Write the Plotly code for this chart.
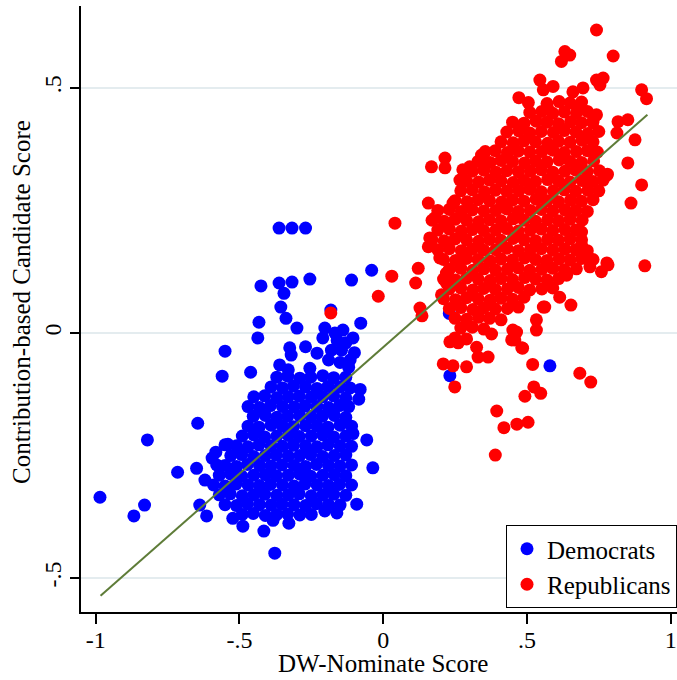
import plotly.graph_objects as go

# ---------------- data ----------------
# Democrats: outliers / edge points, then the dense cloud row by row
dem_x = [
    -0.985, -0.867, -0.83, -0.82, -0.715, -0.649, -0.645, -0.62, -0.638, -0.614,
    -0.55, -0.56, -0.461, -0.432, -0.436, -0.425, -0.362, -0.317, -0.27, -0.362,
    -0.317, -0.255, -0.345, -0.356, -0.338, -0.30, -0.203, -0.168, -0.182, -0.04,
    -0.11, -0.078, -0.105, -0.14, -0.08, -0.085, -0.057, -0.036, -0.105, -0.092,
    -0.377, -0.415, -0.328, -0.488, -0.383, -0.523, -0.161, -0.203, -0.582, -0.579,
    -0.54, -0.595, -0.55, 0.232, 0.58, 0.23,
    -0.21, -0.16, -0.13, -0.10, -0.18, -0.19, -0.15, -0.12, -0.27, -0.23,
    -0.325, -0.32, -0.255, -0.36, -0.33, -0.145, -0.115,
    -0.37, -0.332, -0.29, -0.252, -0.21, -0.172, -0.13,
    -0.39, -0.35, -0.312, -0.27, -0.23, -0.192, -0.15, -0.115,
    -0.45, -0.412, -0.37, -0.33, -0.292, -0.25, -0.21, -0.172, -0.13,
    -0.47, -0.43, -0.392, -0.35, -0.31, -0.272, -0.23, -0.19, -0.152, -0.12,
    -0.452, -0.41, -0.37, -0.332, -0.29, -0.25, -0.212, -0.17, -0.13,
    -0.47, -0.432, -0.39, -0.35, -0.312, -0.27, -0.23, -0.192, -0.15, -0.11,
    -0.49, -0.45, -0.412, -0.37, -0.33, -0.292, -0.25, -0.21, -0.172, -0.13,
    -0.51, -0.47, -0.432, -0.39, -0.35, -0.312, -0.27, -0.23, -0.192, -0.15, -0.11,
    -0.53, -0.492, -0.45, -0.41, -0.372, -0.33, -0.29, -0.252, -0.21, -0.17, -0.13,
    -0.55, -0.51, -0.472, -0.43, -0.39, -0.352, -0.31, -0.27, -0.232, -0.19, -0.15, -0.11,
    -0.57, -0.53, -0.492, -0.45, -0.41, -0.372, -0.33, -0.29, -0.252, -0.21, -0.17, -0.13,
    -0.59, -0.55, -0.512, -0.47, -0.43, -0.392, -0.35, -0.31, -0.272, -0.23, -0.19, -0.152, -0.11,
    -0.57, -0.532, -0.49, -0.45, -0.412, -0.37, -0.33, -0.292, -0.25, -0.21, -0.172, -0.13,
    -0.55, -0.51, -0.472, -0.43, -0.39, -0.352, -0.31, -0.27, -0.232, -0.19, -0.15,
    -0.49, -0.452, -0.41, -0.37, -0.332, -0.29, -0.25,
]
dem_y = [
    -0.335, -0.373, -0.351, -0.218, -0.284, -0.276, -0.184, -0.30, -0.351, -0.373,
    -0.037, -0.088, -0.08, 0.022, -0.01, 0.096, 0.214, 0.214, 0.214, 0.102,
    0.104, 0.11, 0.081, 0.053, 0.030, 0.01, 0.01, 0.0, 0.047, 0.128,
    0.108, 0.02, -0.01, 0.006, -0.115, -0.135, -0.218, -0.275, -0.205, -0.349,
    -0.449, -0.404, -0.388, -0.394, -0.382, -0.378, -0.367, -0.363, -0.243, -0.269,
    -0.227, -0.255, -0.228, -0.087, -0.067, 0.04,
    -0.01, -0.015, -0.02, -0.04, -0.035, -0.055, -0.06, -0.07, -0.028, -0.041,
    -0.03, -0.045, -0.072, -0.065, -0.075, -0.035, -0.055,
    -0.09, -0.088, -0.092, -0.09, -0.087, -0.091, -0.09,
    -0.11, -0.112, -0.108, -0.11, -0.113, -0.109, -0.11, -0.112,
    -0.13, -0.128, -0.132, -0.13, -0.129, -0.131, -0.13, -0.128, -0.132,
    -0.15, -0.152, -0.148, -0.15, -0.151, -0.149, -0.15, -0.152, -0.148, -0.15,
    -0.17, -0.168, -0.172, -0.17, -0.169, -0.171, -0.17, -0.168, -0.172,
    -0.19, -0.192, -0.188, -0.19, -0.191, -0.189, -0.19, -0.192, -0.188, -0.19,
    -0.21, -0.208, -0.212, -0.21, -0.209, -0.211, -0.21, -0.208, -0.212, -0.21,
    -0.23, -0.232, -0.228, -0.23, -0.231, -0.229, -0.23, -0.232, -0.228, -0.23, -0.231,
    -0.25, -0.248, -0.252, -0.25, -0.249, -0.251, -0.25, -0.248, -0.252, -0.25, -0.249,
    -0.27, -0.272, -0.268, -0.27, -0.271, -0.269, -0.27, -0.272, -0.268, -0.27, -0.271, -0.269,
    -0.29, -0.288, -0.292, -0.29, -0.289, -0.291, -0.29, -0.288, -0.292, -0.29, -0.289, -0.291,
    -0.31, -0.312, -0.308, -0.31, -0.311, -0.309, -0.31, -0.312, -0.308, -0.31, -0.311, -0.309, -0.31,
    -0.33, -0.328, -0.332, -0.33, -0.329, -0.331, -0.33, -0.328, -0.332, -0.33, -0.329, -0.331,
    -0.35, -0.352, -0.348, -0.35, -0.351, -0.349, -0.35, -0.352, -0.348, -0.35, -0.351,
    -0.37, -0.368, -0.372, -0.37, -0.369, -0.371, -0.37,
]

# Republicans: outliers / edge points, then the dense cloud row by row
rep_x = [
    0.742, 0.632, 0.649, 0.620, 0.80, 0.545, 0.557, 0.591, 0.742, 0.765,
    0.754, 0.899, 0.916, 0.66, 0.695, 0.472, 0.573, 0.684, 0.742, 0.729,
    0.817, 0.851, 0.813, 0.876, 0.851, 0.899, 0.862, 0.780, 0.91, 0.782,
    0.759, 0.719, 0.69, 0.69, 0.653, 0.562, 0.533, 0.533, 0.464, 0.447,
    0.485, 0.377, 0.325, 0.365, 0.33, 0.232, 0.261, 0.209, 0.243, 0.29,
    0.249, 0.52, 0.684, 0.722, 0.524, 0.548, 0.493, 0.395, 0.42, 0.465,
    0.504, 0.39, 0.041, 0.03, -0.017, 0.122, 0.113, 0.128, 0.135, 0.157,
    0.168, 0.215, 0.215, 0.162, 0.157, 0.18, 0.197, 0.203, 0.22, 0.22,
    0.267, 0.301, 0.342, 0.243, 0.277, 0.778, 0.778, 0.638, 0.614, 0.557,
    0.451, 0.458, 0.482, -0.182,
    0.505, 0.57, 0.612, 0.65, 0.69,
    0.51, 0.552, 0.59, 0.63, 0.672, 0.71,
    0.45, 0.49, 0.532, 0.57, 0.61, 0.652, 0.69, 0.73,
    0.43, 0.472, 0.51, 0.55, 0.592, 0.63, 0.67, 0.712, 0.75,
    0.41, 0.452, 0.49, 0.53, 0.572, 0.61, 0.65, 0.692, 0.73,
    0.355, 0.39, 0.432, 0.47, 0.51, 0.552, 0.59, 0.63, 0.672, 0.71, 0.745,
    0.33, 0.372, 0.41, 0.45, 0.492, 0.53, 0.57, 0.612, 0.65, 0.69, 0.732,
    0.31, 0.35, 0.392, 0.43, 0.47, 0.512, 0.55, 0.59, 0.632, 0.67, 0.71, 0.752,
    0.29, 0.332, 0.37, 0.41, 0.452, 0.49, 0.53, 0.572, 0.61, 0.65, 0.692, 0.73, 0.765,
    0.27, 0.31, 0.352, 0.39, 0.43, 0.472, 0.51, 0.55, 0.592, 0.63, 0.67, 0.712, 0.75,
    0.25, 0.292, 0.33, 0.37, 0.412, 0.45, 0.49, 0.532, 0.57, 0.61, 0.652, 0.69, 0.73,
    0.19, 0.23, 0.272, 0.31, 0.35, 0.392, 0.43, 0.47, 0.512, 0.55, 0.59, 0.632, 0.67, 0.71,
    0.17, 0.212, 0.25, 0.29, 0.332, 0.37, 0.41, 0.452, 0.49, 0.53, 0.572, 0.61, 0.65, 0.692,
    0.19, 0.23, 0.272, 0.31, 0.35, 0.392, 0.43, 0.47, 0.512, 0.55, 0.59, 0.632, 0.67,
    0.17, 0.212, 0.25, 0.29, 0.332, 0.37, 0.41, 0.452, 0.49, 0.53, 0.572, 0.61, 0.65, 0.69,
    0.19, 0.23, 0.272, 0.31, 0.35, 0.392, 0.43, 0.47, 0.512, 0.55, 0.59, 0.632, 0.67, 0.71,
    0.21, 0.252, 0.29, 0.33, 0.372, 0.41, 0.45, 0.492, 0.53, 0.57, 0.612, 0.65, 0.69, 0.73,
    0.23, 0.27, 0.312, 0.35, 0.39, 0.432, 0.47, 0.51, 0.552, 0.59, 0.63, 0.672,
    0.21, 0.252, 0.29, 0.33, 0.372, 0.41, 0.45, 0.492, 0.53, 0.57, 0.61,
    0.23, 0.27, 0.312, 0.35, 0.39, 0.432, 0.47, 0.51, 0.552, 0.59,
    0.21, 0.252, 0.29, 0.33, 0.372, 0.41, 0.45, 0.49,
    0.23, 0.27, 0.312, 0.35, 0.39, 0.432, 0.47,
    0.25, 0.29, 0.332, 0.37, 0.41,
    0.27, 0.31, 0.35,
    0.25, 0.29,
]
rep_y = [
    0.618, 0.574, 0.567, 0.554, 0.565, 0.516, 0.496, 0.503, 0.516, 0.52,
    0.506, 0.496, 0.478, 0.492, 0.50, 0.48, 0.457, 0.457, 0.445, 0.429,
    0.431, 0.435, 0.408, 0.394, 0.347, 0.302, 0.265, 0.324, 0.137, 0.139,
    0.125, 0.135, 0.206, 0.18, 0.057, 0.053, 0.027, 0.006, 0.002, -0.014,
    -0.031, -0.002, -0.029, -0.049, -0.049, -0.018, -0.02, -0.063, -0.067, -0.069,
    -0.11, -0.064, -0.082, -0.10, -0.11, -0.123, -0.129, -0.159, -0.193, -0.186,
    -0.182, -0.249, 0.224, 0.116, 0.075, 0.132, 0.102, 0.051, 0.035, 0.265,
    0.339, 0.357, 0.337, 0.194, 0.176, 0.235, 0.153, 0.078, 0.122, 0.102,
    0.312, 0.339, 0.363, 0.265, 0.333, 0.322, 0.143, 0.118, 0.073, 0.053,
    0.006, -0.014, -0.03, 0.041,
    0.47, 0.468, 0.472, 0.469, 0.471,
    0.45, 0.452, 0.448, 0.451, 0.449, 0.452,
    0.43, 0.428, 0.432, 0.43, 0.427, 0.431, 0.429, 0.433,
    0.41, 0.412, 0.408, 0.411, 0.409, 0.413, 0.41, 0.407, 0.411,
    0.39, 0.388, 0.392, 0.39, 0.387, 0.391, 0.389, 0.393, 0.39,
    0.37, 0.372, 0.368, 0.371, 0.369, 0.37, 0.373, 0.368, 0.37, 0.372, 0.369,
    0.35, 0.348, 0.352, 0.35, 0.347, 0.351, 0.349, 0.353, 0.35, 0.348, 0.351,
    0.33, 0.332, 0.328, 0.331, 0.329, 0.33, 0.333, 0.328, 0.33, 0.332, 0.329, 0.331,
    0.31, 0.308, 0.312, 0.31, 0.307, 0.311, 0.309, 0.313, 0.31, 0.308, 0.311, 0.309, 0.312,
    0.29, 0.292, 0.288, 0.291, 0.289, 0.29, 0.293, 0.288, 0.29, 0.292, 0.289, 0.291, 0.29,
    0.27, 0.268, 0.272, 0.27, 0.267, 0.271, 0.269, 0.273, 0.27, 0.268, 0.271, 0.269, 0.272,
    0.25, 0.252, 0.248, 0.251, 0.249, 0.25, 0.253, 0.248, 0.25, 0.252, 0.249, 0.251, 0.25, 0.248,
    0.23, 0.228, 0.232, 0.23, 0.227, 0.231, 0.229, 0.233, 0.23, 0.228, 0.231, 0.229, 0.232, 0.23,
    0.21, 0.212, 0.208, 0.211, 0.209, 0.21, 0.213, 0.208, 0.21, 0.212, 0.209, 0.211, 0.21,
    0.19, 0.188, 0.192, 0.19, 0.187, 0.191, 0.189, 0.193, 0.19, 0.188, 0.191, 0.189, 0.192, 0.19,
    0.17, 0.172, 0.168, 0.171, 0.169, 0.17, 0.173, 0.168, 0.17, 0.172, 0.169, 0.171, 0.17, 0.168,
    0.15, 0.148, 0.152, 0.15, 0.147, 0.151, 0.149, 0.153, 0.15, 0.148, 0.151, 0.149, 0.152, 0.15,
    0.13, 0.132, 0.128, 0.131, 0.129, 0.13, 0.133, 0.128, 0.13, 0.132, 0.129, 0.131,
    0.11, 0.108, 0.112, 0.11, 0.107, 0.111, 0.109, 0.113, 0.11, 0.108, 0.111,
    0.09, 0.092, 0.088, 0.091, 0.089, 0.09, 0.093, 0.088, 0.09, 0.092,
    0.07, 0.068, 0.072, 0.07, 0.067, 0.071, 0.069, 0.073,
    0.05, 0.052, 0.048, 0.051, 0.049, 0.05, 0.053,
    0.03, 0.028, 0.032, 0.03, 0.027,
    0.01, 0.012, 0.008,
    -0.01, -0.012,
]

# fitted line end points
fit_x = [-0.983, 0.919]
fit_y = [-0.536, 0.445]

x_tick_vals = [-1, -0.5, 0, 0.5, 1]
x_tick_text = ["-1", "-.5", "0", ".5", "1"]
y_tick_vals = [-0.5, 0, 0.5]
y_tick_text = ["-.5", "0", ".5"]

x_title = "DW-Nominate Score"
y_title = "Contribution-based Candidate Score"

assert len(dem_x) == len(dem_y), (len(dem_x), len(dem_y))
assert len(rep_x) == len(rep_y), (len(rep_x), len(rep_y))

FONT = "Liberation Serif, Times New Roman, serif"

fig = go.Figure()
fig.add_trace(go.Scatter(
    x=dem_x, y=dem_y, mode="markers", name="Democrats",
    marker=dict(color="#0000FF", size=13, line=dict(width=0)),
))
fig.add_trace(go.Scatter(
    x=rep_x, y=rep_y, mode="markers", name="Republicans",
    marker=dict(color="#FF0000", size=13, line=dict(width=0)),
))
fig.add_trace(go.Scatter(
    x=fit_x, y=fit_y, mode="lines", showlegend=False,
    line=dict(color="#5E7C38", width=2),
))

fig.update_layout(
    width=677, height=680,
    margin=dict(l=81, r=0, t=6, b=68),
    paper_bgcolor="white", plot_bgcolor="white",
    font=dict(family=FONT, size=24, color="black"),
    legend=dict(
        x=1, xanchor="right", y=0.0066, yanchor="bottom",
        bordercolor="black", borderwidth=1, bgcolor="white",
        font=dict(family=FONT, size=25, color="black"),
        tracegroupgap=0,
    ),
    xaxis=dict(
        range=[-1.051, 1.022], tickvals=x_tick_vals, ticktext=x_tick_text,
        showgrid=False, zeroline=False, showline=True, linecolor="black", linewidth=1.5,
        ticks="outside", ticklen=10, tickwidth=1.5, tickcolor="black",
        tickfont=dict(family=FONT, size=24, color="black"), automargin=False,
        ticklabelstandoff=-5,
    ),
    yaxis=dict(
        range=[-0.569, 0.667], tickvals=y_tick_vals, ticktext=y_tick_text,
        showgrid=True, gridcolor="#E4ECEF", gridwidth=1.5,
        zeroline=False, showline=True, linecolor="black", linewidth=1.5,
        ticks="outside", ticklen=9, tickwidth=1.5, tickcolor="black", tickangle=-90,
        tickfont=dict(family=FONT, size=24, color="black"), automargin=False,
    ),
    annotations=[
        dict(text=x_title, xref="paper", yref="paper", x=0.507, y=-0.085,
             xanchor="center", yanchor="middle", showarrow=False,
             font=dict(family=FONT, size=25, color="black")),
        dict(text=y_title, xref="paper", yref="paper", x=-0.099, y=0.5116,
             xanchor="center", yanchor="middle", showarrow=False, textangle=-90,
             font=dict(family=FONT, size=25, color="black")),
    ],
)

fig.write_html("out.html", config={"displayModeBar": False},
               post_script="document.body.style.margin='0';")
